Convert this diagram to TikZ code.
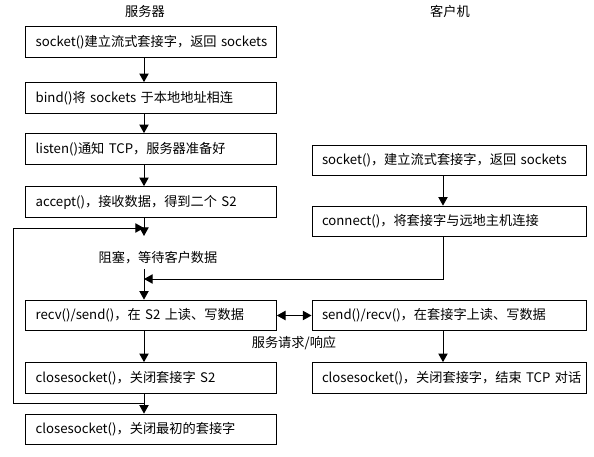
\documentclass[tikz,border=0pt]{standalone}
\usepackage{fontspec}
\setmainfont{Noto Sans CJK SC}
\usetikzlibrary{arrows.meta, positioning}
\tikzset{
  stepbox/.style={draw, rectangle, align=left, inner xsep=7.5pt, inner ysep=0pt,
    minimum height=23pt, text width=173pt, font=\fontsize{9.9}{11}\selectfont},
  clibox/.style={stepbox, text width=190.5pt},
  title/.style={font=\fontsize{9.9}{11}\selectfont},
}

\begin{document}
\begin{tikzpicture}[x=0.75pt, y=-0.75pt, line width=0.75pt, >={Triangle[length=6.5pt, width=7pt]}]
\useasboundingbox (0,0) rectangle (594,457);
% titles
\node[title] (srv) at (145,11) {服务器};
\node[title] (cli) at (450,11) {客户机};
% server side
\node[stepbox] (s1) at (151,42) {\mbox{socket()建立流式套接字，返回 sockets}};
\node[stepbox] (s2) at (151,98) {\mbox{bind()将 sockets 于本地地址相连}};
\node[stepbox] (s3) at (151,149) {\mbox{listen()通知 TCP，服务器准备好}};
\node[stepbox] (s4) at (151,202) {\mbox{accept()，接收数据，得到二个 S2}};
\node[title] (wait) at (158,258) {阻塞，等待客户数据};
\node[stepbox] (s5) at (151,315.5) {\mbox{recv()/send()，在 S2 上读、写数据}};
\node[stepbox] (s6) at (151,378) {\mbox{closesocket()，关闭套接字 S2}};
\node[stepbox] (s7) at (151,429.5) {\mbox{closesocket()，关闭最初的套接字}};
% client side
\node[clibox] (c1) at (449,160.5) {\mbox{socket()，建立流式套接字，返回 sockets}};
\node[clibox] (c2) at (449,221.5) {\mbox{connect()，将套接字与远地主机连接}};
\node[clibox] (c3) at (449,315.5) {\mbox{send()/recv()，在套接字上读、写数据}};
\node[clibox] (c4) at (449,378) {\mbox{closesocket()，关闭套接字，结束 TCP 对话}};
\node[title] (req) at (294,343) {服务请求/响应};
% helper coordinates
\coordinate (lx) at (144,0);
\coordinate (rx) at (443,0);
\coordinate (loopin) at (144,228);
\coordinate (loopout) at (144,403);
\coordinate (join) at (144,279);
% connectors
\draw[->] (s1.south -| lx) -- (s2.north -| lx);
\draw[->] (s2.south -| lx) -- (s3.north -| lx);
\draw[->] (s3.south -| lx) -- (s4.north -| lx);
\draw[->] (s4.south -| lx) -- (144,236);
\draw[->] (loopout) -| (13,228) -- (loopin);
\draw[->] (wait.south -| lx) -- (s5.north -| lx);
\draw[->] (c2.south -| rx) |- (join);
\draw[->] (s5.south -| lx) -- (s6.north -| lx);
\draw[->] (s6.south -| lx) -- (s7.north -| lx);
\draw[->] (c1.south -| rx) -- (c2.north -| rx);
\draw[<->] (s5.east) -- (c3.west);
\draw[->] (c3.south -| rx) -- (c4.north -| rx);
\end{tikzpicture}
\end{document}
